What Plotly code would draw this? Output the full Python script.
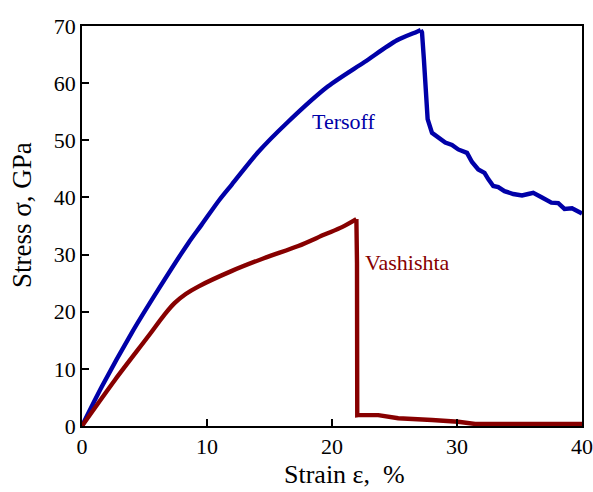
import plotly.graph_objects as go

# Tersoff potential curve (strain %, stress GPa)
tersoff_strain = [0, 1.59, 3.98, 6.11, 8.5, 9.56, 11.0, 12.0, 14.08, 16.47, 19.66, 22.6, 25.2, 26.8, 27.1,
                  27.2, 27.35, 27.5, 27.65, 28.0, 28.5, 29.06, 29.6, 30.1, 30.8, 31.2, 31.7, 32.2, 32.5, 32.9,
                  33.3, 33.8, 34.5, 35.2, 35.7, 36.1, 36.8, 37.55, 38.1, 38.6, 39.2, 39.7, 40.0]
tersoff_stress = [0, 6.9, 16.3, 23.9, 32.0, 35.2, 39.6, 42.3, 47.9, 53.2, 59.4, 63.7, 67.5, 69.0, 69.3,
                  68.9, 64.2, 57.2, 53.7, 51.3, 50.6, 49.6, 49.2, 48.4, 47.8, 46.2, 44.9, 44.3, 43.2, 42.0,
                  41.8, 41.1, 40.6, 40.35, 40.6, 40.8, 40.0, 39.1, 39.0, 38.0, 38.1, 37.6, 37.2]
tersoff_peak_index = 14  # last point of the smooth loading branch

# Vashishta potential curve
vash_strain = [0, 2.65, 5.3, 6.6, 7.4, 8.3, 9.3, 11.95, 14.6, 17.3, 19.4, 20.8, 21.95, 22.0, 22.02, 22.1,
               23.7, 25.3, 28.0, 30.1, 31.45, 35.0, 39.7, 40.0]
vash_stress = [0, 8.1, 15.7, 19.5, 21.5, 23.1, 24.4, 27.1, 29.4, 31.5, 33.5, 34.8, 36.2, 28.5, 1.9, 1.93,
               1.9, 1.35, 1.05, 0.75, 0.35, 0.4, 0.35, 0.35]
vash_peak_index = 12

x_ticks = [0, 10, 20, 30, 40]
y_ticks = [0, 10, 20, 30, 40, 50, 60, 70]

blue = "rgb(0,0,168)"
red = "rgb(135,0,0)"
font_family = "Liberation Serif"
lw = 4.4

fig = go.Figure()
# smooth loading branches
fig.add_trace(go.Scatter(x=tersoff_strain[:tersoff_peak_index + 1], y=tersoff_stress[:tersoff_peak_index + 1],
                         mode="lines", line=dict(color=blue, width=lw, shape="spline", smoothing=0.8)))
fig.add_trace(go.Scatter(x=tersoff_strain[tersoff_peak_index:], y=tersoff_stress[tersoff_peak_index:],
                         mode="lines", line=dict(color=blue, width=lw)))
fig.add_trace(go.Scatter(x=vash_strain[:vash_peak_index + 1], y=vash_stress[:vash_peak_index + 1],
                         mode="lines", line=dict(color=red, width=lw, shape="spline", smoothing=0.8)))
fig.add_trace(go.Scatter(x=vash_strain[vash_peak_index:], y=vash_stress[vash_peak_index:],
                         mode="lines", line=dict(color=red, width=lw)))

fig.add_annotation(x=20.9, y=53.3, text="Tersoff", showarrow=False,
                   font=dict(family=font_family, size=22, color=blue))
fig.add_annotation(x=26.0, y=28.6, text="Vashishta", showarrow=False,
                   font=dict(family=font_family, size=22, color=red))

# axis titles
fig.add_annotation(xref="paper", yref="paper", x=0.524, y=-0.163, xanchor="center", yanchor="bottom",
                   text="Strain ε,  %", showarrow=False,
                   font=dict(family=font_family, size=26, color="black"))
fig.add_annotation(xref="paper", yref="paper", x=-0.12, y=0.5275, xanchor="center", yanchor="middle",
                   text="Stress σ, GPa", textangle=-90, showarrow=False,
                   font=dict(family=font_family, size=27, color="black"))

axis_common = dict(showline=True, linecolor="black", linewidth=1.5, mirror=True,
                   ticks="inside", ticklen=7, tickwidth=1.5, tickcolor="black",
                   showgrid=False, zeroline=False, automargin=False,
                   tickfont=dict(family=font_family, size=22, color="black"))

fig.update_layout(
    width=593, height=492,
    margin=dict(l=82, r=11, t=26, b=66),
    paper_bgcolor="white", plot_bgcolor="white",
    showlegend=False,
    xaxis=dict(range=[0, 40], tickvals=x_ticks, **axis_common),
    yaxis=dict(range=[0, 70], tickvals=y_ticks, **axis_common),
)

fig.write_html("out.html")
